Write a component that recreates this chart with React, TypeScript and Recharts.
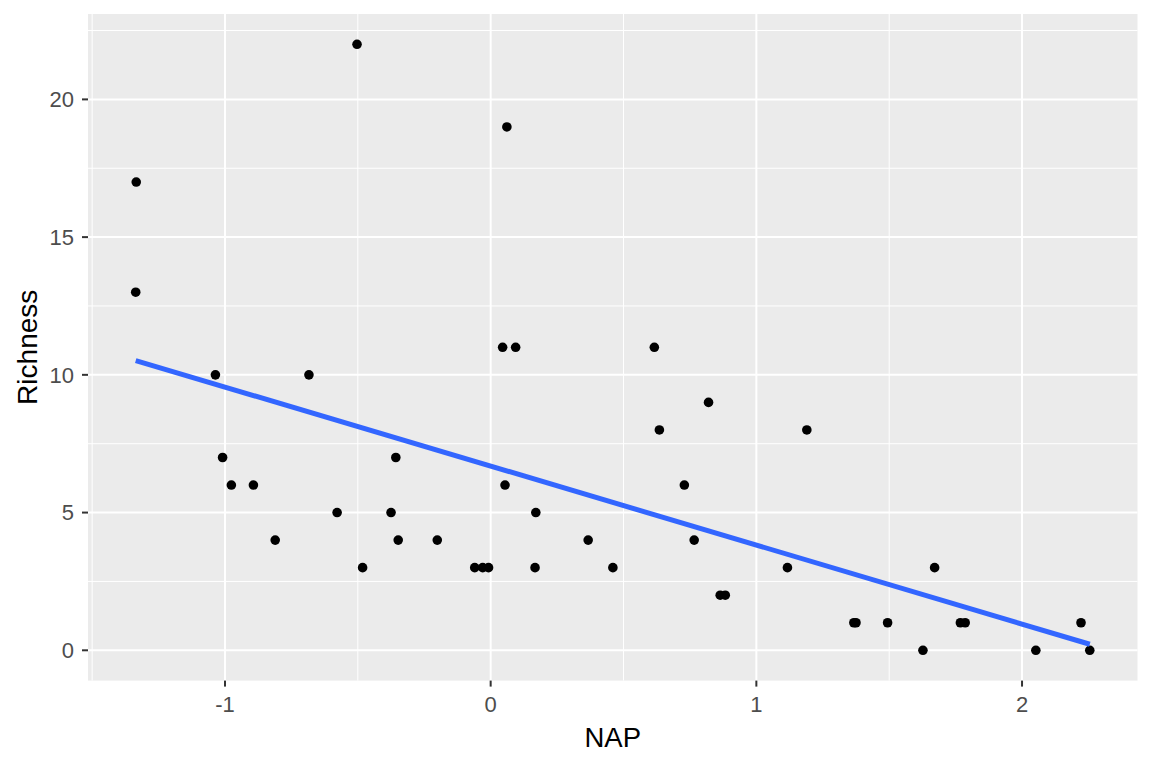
import React from 'react';
import { ScatterChart, Scatter, XAxis, YAxis, CartesianGrid, Label } from 'recharts';

// RIKZ data: NAP vs Richness
const napValues = [
  0.045, -1.036, -1.336, 0.616, -0.684, 1.19, 0.82, 0.635, 0.061, -1.334,
  -0.976, 1.494, -0.201, -0.482, 0.167, 1.768, -0.03, 0.46, 1.367, -0.811,
  1.117, -0.503, 0.729, 1.627, 0.054, -0.578, -0.348, 2.222, -0.893, 0.766,
  0.883, 1.786, 1.375, -0.06, 0.367, 1.671, -0.375, -0.008, -0.357, 0.17,
  2.052, -1.009, 0.094, 2.255, 0.864,
];
const richnessValues = [
  11, 10, 13, 11, 10, 8, 9, 8, 19, 17,
  6, 1, 4, 3, 3, 1, 3, 3, 1, 4,
  3, 22, 6, 0, 6, 5, 4, 1, 6, 4,
  2, 1, 1, 3, 4, 3, 5, 3, 7, 5,
  0, 7, 11, 0, 2,
];
// Fitted linear trend endpoints
const fitNap = [-1.336, 2.255];
const fitRichness = [10.52, 0.22];

const xTicks = [-1, 0, 1, 2];
const xMinor = [-1.5, -0.5, 0.5, 1.5];
const yTicks = [0, 5, 10, 15, 20];
const yMinor = [2.5, 7.5, 12.5, 17.5, 22.5];
const xDomain = [-1.5156, 2.4346];
const yDomain = [-1.1, 23.1];

const points = napValues.map((x, i) => ({ x, y: richnessValues[i] }));
const fitData = fitNap.map((x, i) => ({ x, y: fitRichness[i] }));

const FONT = 'Liberation Sans, Arial, Helvetica, sans-serif';
const tickStyle = { fill: '#4D4D4D', fontSize: 22, fontFamily: FONT };

export default function App() {
  return (
    <div style={{ position: 'absolute', left: 0, top: 0, width: 1152, height: 768, background: '#fff' }}>
      <ScatterChart width={1152} height={768} margin={{ top: 14, right: 14.5, left: 0, bottom: 0 }}>
        <CartesianGrid
          fill="#EBEBEB"
          stroke="#FFFFFF"
          strokeWidth={1}
          horizontalValues={yMinor}
          verticalValues={xMinor}
        />
        <CartesianGrid
          stroke="#FFFFFF"
          strokeWidth={2}
          horizontalValues={yTicks}
          verticalValues={xTicks}
        />
        <XAxis
          type="number"
          dataKey="x"
          domain={xDomain}
          ticks={xTicks}
          allowDataOverflow
          axisLine={false}
          tickLine={{ stroke: '#333333', strokeWidth: 2 }}
          tickSize={6}
          tickMargin={10}
          height={87.4}
          tick={tickStyle}
          interval={0}
        >
          <Label
            position="insideBottom"
            content={(props: any) => {
              const vb = props.viewBox || {};
              const cx = vb.x + vb.width / 2;
              const y = vb.y + vb.height - 21.3;
              return (
                <text x={cx} y={y} textAnchor="middle" fill="#000" fontSize={27.5} fontFamily={FONT}>
                  NAP
                </text>
              );
            }}
          />
        </XAxis>
        <YAxis
          type="number"
          dataKey="y"
          domain={yDomain}
          ticks={yTicks}
          allowDataOverflow
          axisLine={false}
          tickLine={{ stroke: '#333333', strokeWidth: 2 }}
          tickSize={6}
          tickMargin={8}
          width={88}
          tick={tickStyle}
          interval={0}
        >
          <Label
            position="insideLeft"
            content={(props: any) => {
              const vb = props.viewBox || {};
              const x = vb.x + 37.5;
              const cy = vb.y + vb.height / 2;
              return (
                <text
                  x={x}
                  y={cy}
                  textAnchor="middle"
                  fill="#000"
                  fontSize={28}
                  fontFamily={FONT}
                  transform={`rotate(-90, ${x}, ${cy})`}
                >
                  Richness
                </text>
              );
            }}
          />
        </YAxis>
        <Scatter
          data={points}
          isAnimationActive={false}
          shape={(p: any) => <circle cx={p.cx} cy={p.cy} r={4.8} fill="#000000" />}
        />
        <Scatter
          data={fitData}
          isAnimationActive={false}
          line={{ stroke: '#3366FF', strokeWidth: 5 }}
          lineType="joint"
          shape={() => <g />}
        />
      </ScatterChart>
    </div>
  );
}
